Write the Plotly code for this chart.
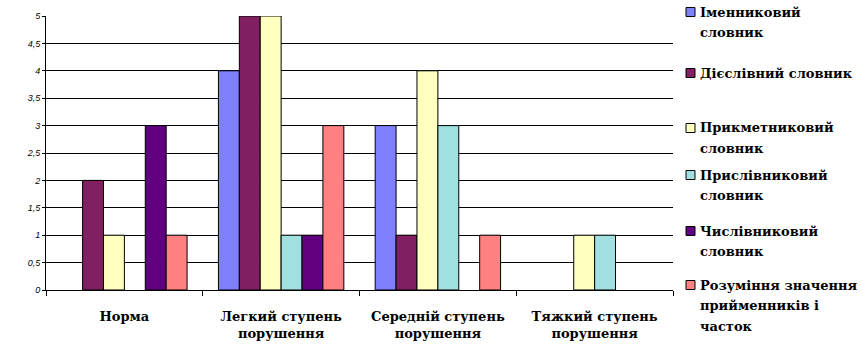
import plotly.graph_objects as go

categories = ["Норма", "Легкий ступень<br>порушення", "Середній ступень<br>порушення", "Тяжкий ступень<br>порушення"]
series_names = ["Іменниковий<br>словник", "Дієслівний словник", "Прикметниковий<br>словник",
                "Прислівниковий<br>словник", "Числівниковий<br>словник",
                "Розуміння значення<br>прийменників і<br>часток"]
imennykovyi = [0, 4, 3, 0]
dieslivnyi = [2, 5, 1, 0]
prykmetnykovyi = [1, 5, 4, 1]
pryslivnykovyi = [0, 1, 3, 1]
chyslivnykovyi = [3, 1, 0, 0]
rozuminnia = [1, 3, 1, 0]
series_values = [imennykovyi, dieslivnyi, prykmetnykovyi, pryslivnykovyi, chyslivnykovyi, rozuminnia]
colors = ["#8080FF", "#802060", "#FFFFC0", "#A0E0E0", "#600080", "#FF8080"]
y_ticks = [0, 0.5, 1, 1.5, 2, 2.5, 3, 3.5, 4, 4.5, 5]
y_tick_text = ["0", "0,5", "1", "1,5", "2", "2,5", "3", "3,5", "4", "4,5", "5"]

W, H = 863, 354
L, R, T, B = 46, 190, 16, 64
PW, PH = W - L - R, H - T - B

fig = go.Figure()
for name, vals, col in zip(series_names, series_values, colors):
    fig.add_trace(go.Bar(x=categories, y=vals, name=name, marker_color=col,
                         marker_line_color="black",
                         marker_line_width=[1 if v else 0 for v in vals], showlegend=False))

serif = "DejaVu Serif"
fig.update_layout(
    width=W, height=H, margin=dict(l=L, r=R, t=T, b=B),
    paper_bgcolor="white", plot_bgcolor="white",
    barmode="group", bargap=0.2, bargroupgap=0,
    xaxis=dict(showline=True, linecolor="black", linewidth=1, ticks="outside",
               tickson="boundaries", ticklen=5, tickcolor="black", showgrid=False,
               tickangle=0,
               tickfont=dict(family=serif, size=13, color="black", weight="bold"),
               ticklabelstandoff=14),
    yaxis=dict(range=[0, 5], tickvals=y_ticks, ticktext=y_tick_text, showline=True,
               linecolor="black", linewidth=1, ticks="outside", ticklen=3, tickcolor="black",
               showgrid=True, gridcolor="black", gridwidth=1, zeroline=False,
               tickfont=dict(family="Liberation Sans", size=9, color="black",
                             style="italic")),
)

# manual legend (marker + one annotation per text line)
legend_first_line_y = [12, 73, 128, 175, 231, 285]
line_step = 20.5
for name, col, yc in zip(series_names, colors, legend_first_line_y):
    fig.add_shape(type="rect", xref="paper", yref="paper",
                  x0=(686 - L) / PW, x1=(695 - L) / PW,
                  y0=(H - B - (yc + 4.5)) / PH, y1=(H - B - (yc - 4.5)) / PH,
                  fillcolor=col, line=dict(color="black", width=1))
    for i, line in enumerate(name.split("<br>")):
        fig.add_annotation(xref="paper", yref="paper", x=(698 - L) / PW,
                           y=(H - B - (yc + i * line_step)) / PH, xanchor="left", yanchor="middle",
                           text=line, showarrow=False, align="left",
                           font=dict(family=serif, size=13, color="black", weight="bold"))

fig.write_html("out.html")
